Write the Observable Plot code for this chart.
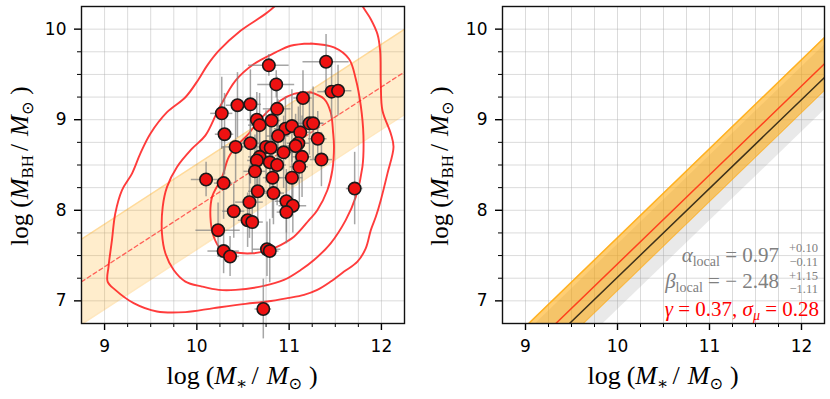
<!DOCTYPE html>
<html><head><meta charset="utf-8">
<script src="https://cdn.jsdelivr.net/npm/d3@7"></script>
<script src="https://cdn.jsdelivr.net/npm/@observablehq/plot@0.6"></script>
<style>
body{margin:0;background:#fff}
#wrap{display:flex;width:830px;height:399px;overflow:hidden}
#wrap svg{display:block;overflow:visible}
</style>
</head><body><div id="wrap"></div>
<script>
// ---------- axes ----------
const xDomain = [8.75, 12.25];
const yDomain = [6.75, 10.25];
const xTicks = [9, 10, 11, 12];
const yTicks = [7, 8, 9, 10];
const xMinor = [9.25, 9.5, 9.75, 10.25, 10.5, 10.75, 11.25, 11.5, 11.75];
const yMinor = [7.25, 7.5, 7.75, 8.25, 8.5, 8.75, 9.25, 9.5, 9.75];
const xGrid = [9, 9.25, 9.5, 9.75, 10, 10.25, 10.5, 10.75, 11, 11.25, 11.5, 11.75, 12];
const yGrid = [7, 7.25, 7.5, 7.75, 8, 8.25, 8.5, 8.75, 9, 9.25, 9.5, 9.75, 10];

// ---------- left panel: galaxies ----------
const mstar = [11.40,10.78,10.86,11.46,11.53,11.15,10.44,10.58,10.27,10.87,10.65,10.68,10.81,10.96,11.03,11.12,11.22,11.26,10.30,10.88,11.31,10.42,10.58,10.75,10.80,11.10,11.07,10.94,10.68,10.65,11.14,11.35,10.79,10.87,11.11,10.10,10.29,10.63,10.82,11.03,10.66,10.83,10.57,10.97,11.04,10.97,10.40,11.71,10.55,10.60,10.23,10.29,10.36,10.76,10.79,10.72];
const mbh   = [9.64,9.60,9.39,9.31,9.32,9.24,9.16,9.17,9.07,9.12,9.00,8.94,8.99,8.90,8.93,8.86,8.96,8.96,8.84,8.82,8.79,8.70,8.74,8.70,8.69,8.74,8.71,8.64,8.59,8.55,8.59,8.56,8.53,8.50,8.48,8.34,8.30,8.43,8.36,8.36,8.21,8.19,8.09,8.10,8.05,7.98,7.99,8.24,7.89,7.87,7.78,7.55,7.49,7.57,7.55,6.91];
const mstarErr = [0.25,0.22,0.20,0.15,0.15,0.10,0.12,0.12,0.12,0.15,0.10,0.12,0.10,0.12,0.15,0.12,0.15,0.12,0.10,0.12,0.10,0.15,0.12,0.10,0.12,0.12,0.10,0.15,0.12,0.10,0.10,0.12,0.12,0.10,0.10,0.16,0.10,0.12,0.10,0.12,0.10,0.12,0.15,0.12,0.15,0.10,0.12,0.09,0.10,0.12,0.24,0.17,0.10,0.15,0.10,0.09];
const mbhErr   = [0.30,0.12,0.15,0.30,0.28,0.30,0.36,0.38,0.40,0.35,0.30,0.35,0.40,0.35,0.40,0.45,0.35,0.40,0.45,0.40,0.30,0.40,0.45,0.40,0.35,0.40,0.35,0.40,0.45,0.40,0.45,0.30,0.40,0.45,0.40,0.19,0.40,0.40,0.45,0.40,0.35,0.35,0.40,0.35,0.30,0.35,0.30,0.40,0.30,0.35,0.30,0.25,0.22,0.30,0.35,0.33];

// density contours (three levels)
const outerX = [10.944,10.763,10.473,10.238,10.111,10.021,9.876,9.677,9.496,9.387,9.297,9.188,9.116,9.080,9.043,9.033,9.116,9.315,9.568,9.876,10.183,10.527,10.763,10.980,11.161,11.305,11.450,11.595,11.740,11.830,11.885,11.939,11.993,12.065,12.131,12.102,12.011,11.993,11.986,11.957,11.885,11.794,11.758];
const outerY = [10.348,10.183,9.982,9.762,9.597,9.450,9.248,9.083,8.845,8.625,8.405,8.221,7.965,7.671,7.378,7.213,7.121,6.975,6.883,6.876,6.920,6.967,6.993,7.030,7.066,7.121,7.213,7.323,7.433,7.580,7.781,7.928,8.112,8.405,8.698,8.845,9.102,9.395,9.762,9.945,10.110,10.257,10.348];
const middleX = [11.233,11.486,11.649,11.722,11.776,11.805,11.794,11.722,11.613,11.450,11.269,11.125,10.944,10.726,10.419,10.238,10.057,9.876,9.749,9.659,9.622,9.630,9.677,9.785,9.948,10.093,10.238,10.419,10.618,10.853,11.016,11.233];
const middleY = [9.842,9.798,9.670,9.450,9.157,8.827,8.478,8.148,7.891,7.635,7.451,7.341,7.231,7.165,7.121,7.121,7.158,7.213,7.341,7.525,7.745,8.038,8.258,8.478,8.680,8.827,9.120,9.432,9.615,9.743,9.817,9.842];
const innerX = [11.233,11.378,11.450,11.476,11.486,11.468,11.414,11.305,11.215,11.052,10.907,10.763,10.600,10.401,10.256,10.183,10.147,10.165,10.274,10.346,10.455,10.545,10.690,10.907,11.052,11.233];
const innerY = [9.303,9.230,9.083,8.863,8.698,8.442,8.221,8.001,7.891,7.708,7.616,7.554,7.525,7.536,7.580,7.708,7.928,8.148,8.368,8.588,8.735,8.827,9.010,9.212,9.285,9.303];

// local relation in left panel (slope, value at log M* = 11, half width)
const fitSlope = 0.662, fitAt11 = 8.70, fitHalf = 0.47;

// ---------- right panel relations ----------
const redSlope = 0.982, redAt11 = 8.39, redHalf = 0.29;
const blackSlope = 0.98, blackAt11 = 8.241, grayHalf = 0.36;

// ---------- build tables ----------
const galaxies = mstar.map((x, i) => ({x, y: mbh[i], xe: mstarErr[i], ye: mbhErr[i]}));
const toPath = (xs, ys) => xs.map((x, i) => ({x, y: ys[i]}));
const contours = [toPath(outerX, outerY), toPath(middleX, middleY), toPath(innerX, innerY)];
const lineTable = (slope, at11, half) => xDomain.map(x => {
  const y = at11 + slope * (x - 11);
  return {x, y, lo: y - half, hi: y + half};
});
const leftFit = lineTable(fitSlope, fitAt11, fitHalf);
const redFit = lineTable(redSlope, redAt11, redHalf);
const blackFit = lineTable(blackSlope, blackAt11, grayHalf);

const fmt = d => String(d);
function axesMarks() {
  return [
    Plot.axisX(xTicks, {tickSize: 7, tickPadding: 9, strokeWidth: 1.4, label: null, fontSize: 17, tickFormat: fmt}),
    Plot.axisX(xMinor, {tickSize: 4, strokeWidth: 1, fill: "none", label: null}),
    Plot.axisY(yTicks, {tickSize: 7, tickPadding: 8, strokeWidth: 1.4, label: null, fontSize: 17, tickFormat: fmt}),
    Plot.axisY(yMinor, {tickSize: 4, strokeWidth: 1, fill: "none", label: null}),
    Plot.frame({stroke: "#111", strokeWidth: 1.4})
  ];
}
function gridMarks() {
  return [
    Plot.gridX(xGrid, {stroke: "#b0b0b0", strokeOpacity: 0.45, strokeWidth: 1}),
    Plot.gridY(yGrid, {stroke: "#b0b0b0", strokeOpacity: 0.45, strokeWidth: 1})
  ];
}
const baseOpts = (ml, mr) => ({
  width: 415, height: 399, marginLeft: ml, marginRight: mr, marginTop: 6, marginBottom: 76,
  x: {domain: xDomain}, y: {domain: yDomain},
  style: {fontFamily: "DejaVu Sans", fontSize: "17px", color: "black", background: "white"}
});

const left = Plot.plot({
  ...baseOpts(81, 11),
  marks: [
    ...gridMarks(),
    Plot.areaY(leftFit, {x: "x", y1: "lo", y2: "hi", fill: "#ffa500", fillOpacity: 0.2, clip: true}),
    Plot.line(leftFit, {x: "x", y: "hi", stroke: "#ffa500", strokeOpacity: 0.25, clip: true}),
    Plot.line(leftFit, {x: "x", y: "lo", stroke: "#ffa500", strokeOpacity: 0.25, clip: true}),
    Plot.line(leftFit, {x: "x", y: "y", stroke: "#ff3030", strokeOpacity: 0.75, strokeWidth: 1.3, strokeDasharray: "4,3", clip: true}),
    ...contours.map(c => Plot.line(c, {x: "x", y: "y", curve: "catmull-rom", stroke: "#ff1a1a", strokeOpacity: 0.85, strokeWidth: 1.9, clip: true})),
    Plot.ruleX(galaxies, {x: "x", y1: d => d.y - d.ye, y2: d => d.y + d.ye, stroke: "#808080", strokeOpacity: 0.7, strokeWidth: 1.5}),
    Plot.ruleY(galaxies, {y: "y", x1: d => d.x - d.xe, x2: d => d.x + d.xe, stroke: "#808080", strokeOpacity: 0.7, strokeWidth: 1.5}),
    Plot.dot(galaxies, {x: "x", y: "y", r: 6.2, fill: "#ee1111", stroke: "#1a1a1a", strokeWidth: 1.6}),
    ...axesMarks()
  ]
});

const right = Plot.plot({
  ...baseOpts(87, 6),
  marks: [
    ...gridMarks(),
    Plot.areaY(blackFit, {x: "x", y1: "lo", y2: "hi", fill: "#999", fillOpacity: 0.22, clip: true}),
    Plot.areaY(redFit, {x: "x", y1: "lo", y2: "hi", fill: "#ffa500", fillOpacity: 0.55, clip: true}),
    Plot.line(redFit, {x: "x", y: "hi", stroke: "#ffa500", strokeOpacity: 0.7, strokeWidth: 1.5, clip: true}),
    Plot.line(redFit, {x: "x", y: "lo", stroke: "#ffa500", strokeOpacity: 0.7, strokeWidth: 1.5, clip: true}),
    Plot.line(blackFit, {x: "x", y: "y", stroke: "#000", strokeOpacity: 0.75, strokeWidth: 1.5, clip: true}),
    Plot.line(redFit, {x: "x", y: "y", stroke: "#ff2a10", strokeOpacity: 0.85, strokeWidth: 1.5, clip: true}),
    ...axesMarks()
  ]
});

document.getElementById("wrap").append(left, right);

const SERIF = "Liberation Serif, DejaVu Serif, serif";
function axisTitle(t, sub) {
  t.append("tspan").text("log");
  t.append("tspan").attr("dx", 6).text("(");
  t.append("tspan").attr("font-style", "italic").text("M");
  t.append("tspan").attr("font-size", 17).attr("dy", 5).text(sub);
  t.append("tspan").attr("dy", -5).attr("dx", 4).text("/");
  t.append("tspan").attr("font-style", "italic").attr("dx", 8).text("M");
  t.append("tspan").attr("font-size", 16).attr("dy", 5).attr("font-family", "DejaVu Sans").text("⊙");
  t.append("tspan").attr("dy", -5).attr("dx", 7).text(")");
}
function xLabel(svg, cx, base) {
  const t = d3.select(svg).append("text").attr("x", cx).attr("y", base)
    .attr("text-anchor", "middle").attr("font-family", SERIF).attr("font-size", 26).attr("fill", "black");
  axisTitle(t, "∗");
}
function yLabel(svg, bx, cy) {
  const t = d3.select(svg).append("text").attr("transform", `translate(${bx},${cy}) rotate(-90)`)
    .attr("text-anchor", "middle").attr("font-family", SERIF).attr("font-size", 25).attr("fill", "black");
  axisTitle(t, "BH");
}
xLabel(left, 242, 384);
yLabel(left, 28, 166);
xLabel(right, 248, 384);
yLabel(right, 33, 166);

// annotations in right panel: one text block, chunks positioned per line
const GRAY = "#808080";
const ann = d3.select(right).append("text").attr("font-family", SERIF).attr("text-anchor", "end").attr("font-size", 21);
function coefLine(sym, val, sup, lo, base, supY, loY) {
  const xEnd = 364, xScr = 403;
  ann.append("tspan").attr("x", xEnd).attr("y", base).attr("fill", GRAY).attr("font-style", "italic").text(sym);
  ann.append("tspan").attr("fill", GRAY).attr("font-size", 14).attr("dy", 4).text("local");
  ann.append("tspan").attr("fill", GRAY).attr("dy", -4).text(" = " + val);
  ann.append("tspan").attr("x", xScr).attr("y", supY).attr("fill", GRAY).attr("font-size", 12.5).text(sup);
  ann.append("tspan").attr("x", xScr).attr("y", loY).attr("fill", GRAY).attr("font-size", 12.5).text(lo);
}
coefLine("α", "0.97", "+0.10", "−0.11", 262, 252, 266);
coefLine("β", "− 2.48", "+1.15", "−1.11", 288, 280, 293);
ann.append("tspan").attr("x", 404).attr("y", 316).attr("fill", "red").attr("font-style", "italic").text("γ");
ann.append("tspan").attr("fill", "red").text(" = 0.37, ");
ann.append("tspan").attr("fill", "red").attr("font-style", "italic").text("σ");
ann.append("tspan").attr("fill", "red").attr("font-style", "italic").attr("font-size", 14).attr("dy", 4).text("μ");
ann.append("tspan").attr("fill", "red").attr("dy", -4).text(" = 0.28");
</script>
</body></html>
